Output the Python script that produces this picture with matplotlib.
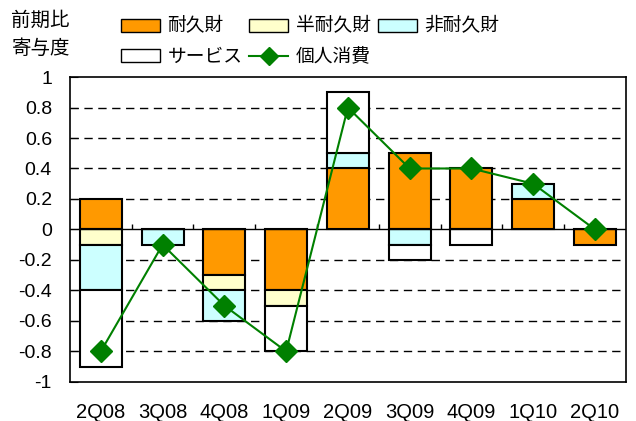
import numpy as np
import matplotlib.pyplot as plt
from matplotlib.lines import Line2D
from matplotlib.patches import Patch

plt.rcParams['font.family'] = ['Liberation Sans', 'Noto Sans CJK JP', 'DejaVu Sans']

quarters = ["2Q08", "3Q08", "4Q08", "1Q09", "2Q09", "3Q09", "4Q09", "1Q10", "2Q10"]
durable = [0.2, 0.0, -0.3, -0.4, 0.4, 0.5, 0.4, 0.2, -0.1]
semi_durable = [-0.1, 0.0, -0.1, -0.1, 0.0, 0.0, 0.0, 0.0, 0.0]
non_durable = [-0.3, -0.1, -0.2, 0.0, 0.1, -0.1, 0.0, 0.1, 0.0]
services = [-0.5, 0.0, 0.0, -0.3, 0.4, -0.1, -0.1, 0.0, 0.0]
consumption = [-0.8, -0.1, -0.5, -0.8, 0.8, 0.4, 0.4, 0.3, 0.0]

series = [
    ("耐久財", durable, "#FF9900"),
    ("半耐久財", semi_durable, "#FFFFCC"),
    ("非耐久財", non_durable, "#CCFFFF"),
    ("サービス", services, "#FFFFFF"),
]

fig = plt.figure(figsize=(6.36, 4.21), dpi=100)
ax = fig.add_axes([0.110, 0.093, 0.874, 0.724])

x = np.arange(len(quarters))
pos_base = np.zeros(len(quarters))
neg_base = np.zeros(len(quarters))
for name, vals, color in series:
    vals = np.array(vals)
    bottoms = np.where(vals >= 0, pos_base, neg_base)
    mask = vals != 0
    ax.bar(x[mask], vals[mask], bottom=bottoms[mask], width=0.68, color=color,
           edgecolor="black", linewidth=1.5, zorder=2)
    pos_base = pos_base + np.where(vals > 0, vals, 0)
    neg_base = neg_base + np.where(vals < 0, vals, 0)

ax.plot(x, consumption, color="#008000", linewidth=1.5, marker="D", markersize=11, zorder=3)

ax.set_xlim(-0.5, len(quarters) - 0.5)
ax.set_ylim(-1, 1)
ax.set_yticks(np.arange(-1, 1.01, 0.2))
ax.set_yticklabels(["-1", "-0.8", "-0.6", "-0.4", "-0.2", "0", "0.2", "0.4", "0.6", "0.8", "1"])
for yv in np.arange(-0.8, 0.81, 0.2):
    if abs(yv) > 1e-9:
        ax.axhline(yv, color="black", linestyle=(0, (6, 4)), linewidth=1, zorder=1)
ax.axhline(0, color="black", linewidth=1, zorder=2.5)
ax.vlines(np.arange(0.5, len(quarters) - 0.5), 0, 0.035, color="black", linewidth=1, zorder=2.5)

ax.set_xticks(x)
ax.set_xticklabels(quarters)
ax.tick_params(axis="x", length=0, pad=15, labelsize=14.5)
ax.tick_params(axis="y", length=6, labelsize=14, direction="in", pad=13)
for s in ax.spines.values():
    s.set_linewidth(1.2)

fig.text(0.018, 0.972, "前期比\n寄与度", fontsize=14, va="top", ha="left", linespacing=1.6)

handles = [
    Patch(facecolor="#FF9900", edgecolor="black", label="耐久財"),
    Patch(facecolor="#FFFFFF", edgecolor="black", label="サービス"),
    Patch(facecolor="#FFFFCC", edgecolor="black", label="半耐久財"),
    Line2D([0], [0], color="#008000", marker="D", markersize=9, linewidth=1.5, label="個人消費"),
    Patch(facecolor="#CCFFFF", edgecolor="black", label="非耐久財"),
]
fig.legend(handles=handles, ncol=3, loc="upper left", bbox_to_anchor=(0.172, 0.985),
           frameon=False, fontsize=13.5, handlelength=2.1, handleheight=0.7,
           handletextpad=0.4, columnspacing=0.35, labelspacing=0.7, borderaxespad=0.2)

fig.savefig("out.png", dpi=100)
